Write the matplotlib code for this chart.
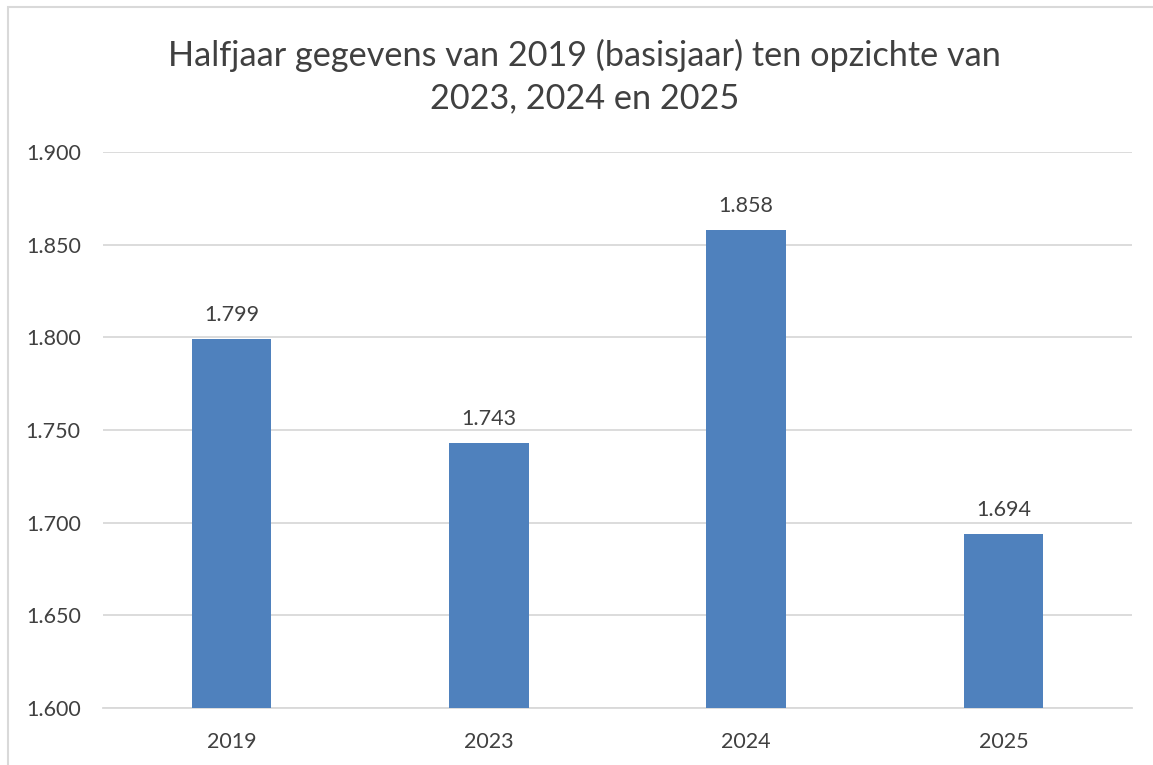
import matplotlib.pyplot as plt
from matplotlib.patches import Rectangle
from matplotlib.ticker import FuncFormatter

years = ['2019', '2023', '2024', '2025']
values = [1799, 1743, 1858, 1694]
y_ticks = [1600, 1650, 1700, 1750, 1800, 1850, 1900]

plt.rcParams['font.family'] = ['Lato', 'DejaVu Sans']


def nl(v, pos=None):
    # Dutch thousands separator
    return f'{int(round(v)):,}'.replace(',', '.')


fig = plt.figure(figsize=(11.53, 7.65), dpi=100)
fig.patch.set_facecolor('white')
ax = fig.add_axes([0.0893, 0.0745, 0.8925, 0.7268])

# outer chart border (cut off at right/bottom in the reference)
fig.patches.append(Rectangle((8 / 1153, -0.05), 1.2, 1 - 7 / 765 + 0.05,
                             transform=fig.transFigure, fill=False,
                             edgecolor='#D9D9D9', linewidth=1.5))

x = range(len(years))
ax.bar(x, values, width=0.31, color='#4F81BD', zorder=3)

for i, v in enumerate(values):
    ax.annotate(nl(v), (i, v), xytext=(0, 10), textcoords='offset points',
                ha='center', va='bottom', fontsize=15.5, color='#404040')

ax.set_xlim(-0.5, len(years) - 0.5)
ax.set_ylim(y_ticks[0], y_ticks[-1])
ax.set_yticks(y_ticks)
ax.yaxis.set_major_formatter(FuncFormatter(nl))
ax.set_xticks(list(x))
ax.set_xticklabels(years)
ax.tick_params(axis='both', length=0, labelsize=15.5, labelcolor='#404040')
ax.tick_params(axis='y', pad=16)
ax.tick_params(axis='x', pad=17)
ax.yaxis.grid(True, color='#D9D9D9', linewidth=1.3)
ax.set_axisbelow(True)
ax.spines[['top', 'right', 'left']].set_visible(False)
ax.spines['bottom'].set_color('#D9D9D9')
ax.spines['bottom'].set_linewidth(1.3)

fig.text(0.507, 0.9, 'Halfjaar gegevens van 2019 (basisjaar) ten opzichte van\n2023, 2024 en 2025',
         ha='center', va='center', fontsize=24.7, color='#404040',
         linespacing=1.42)

fig.savefig('out.png', dpi=100)
